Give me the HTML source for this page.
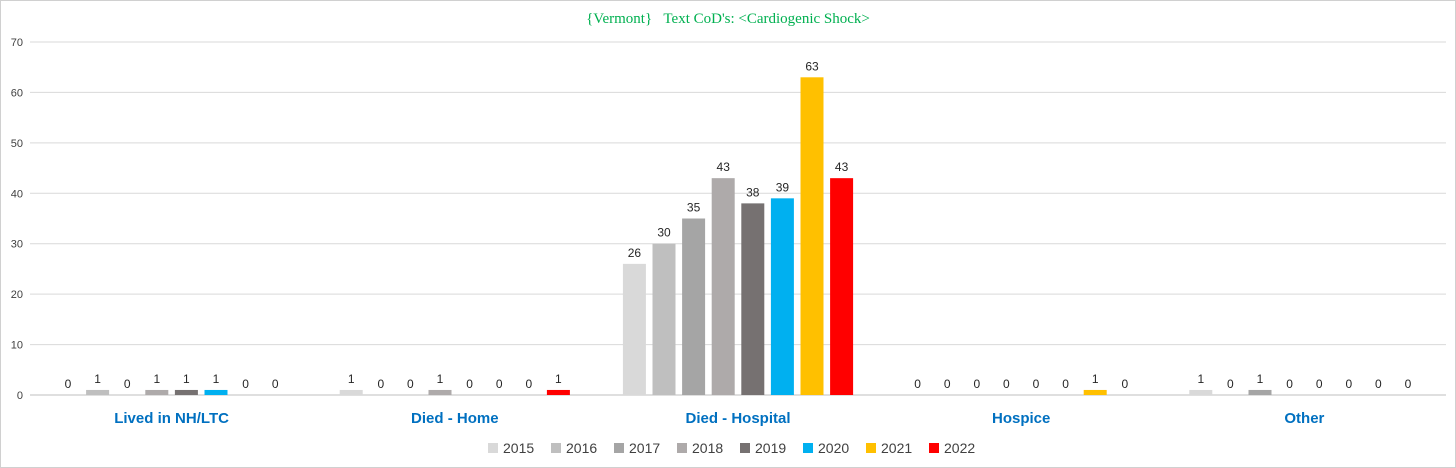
<!DOCTYPE html>
<html><head><meta charset="utf-8">
<style>
body{margin:0;background:#fff;}
#wrap{position:relative;width:1454px;height:466px;border:1px solid #d0d0d0;overflow:hidden;}
svg text{font-family:"Liberation Sans",sans-serif;}
</style></head>
<body>
<div id="wrap">
<svg id="chart" width="1454" height="466"></svg>
</div>
<script>
const categories=["Lived in NH/LTC","Died - Home","Died - Hospital","Hospice","Other"];
const years=["2015","2016","2017","2018","2019","2020","2021","2022"];
const colors=["#d9d9d9","#bfbfbf","#a5a5a5","#aeaaaa","#767171","#00b0f0","#ffc000","#ff0000"];
const s2015=[0,1,26,0,1];
const s2016=[1,0,30,0,0];
const s2017=[0,0,35,0,1];
const s2018=[1,1,43,0,0];
const s2019=[1,0,38,0,0];
const s2020=[1,0,39,0,0];
const s2021=[0,0,63,1,0];
const s2022=[0,1,43,0,0];
const yTicks=[0,10,20,30,40,50,60,70];
</script>
<script>
const series=[s2015,s2016,s2017,s2018,s2019,s2020,s2021,s2022];
const NS="http://www.w3.org/2000/svg";
const svg=document.getElementById('chart');
const x0=29,x1=1445,y0=394,yTop=41,ymax=70;
const y=v=>y0-(v/ymax)*(y0-yTop);
const cw=(x1-x0)/categories.length;
const bw=23,step=29.6;
function mk(t,a,txt){const e=document.createElementNS(NS,t);for(const k in a)e.setAttribute(k,a[k]);if(txt!==undefined)e.textContent=txt;svg.appendChild(e);return e;}
const title=mk('text',{x:727,y:22,'text-anchor':'middle','font-size':15,fill:'#00b050',style:'font-family:"Liberation Serif",serif;white-space:pre'},"{Vermont}\u00a0\u00a0\u00a0Text CoD's: <Cardiogenic Shock>");


yTicks.forEach(t=>{
  const g=mk('line',{x1:x0,x2:x1,y1:y(t),y2:y(t),stroke:t===0?'#bfbfbf':'#d9d9d9','stroke-width':1});
  
  
  const l=mk('text',{x:22,y:y(t)+4,'text-anchor':'end','font-size':11,fill:'#404040'},t);
  
  
});
categories.forEach((c,i)=>{
  const cx=x0+cw*(i+0.5);
  series.forEach((s,j)=>{
    const bx=cx+(j-3.5)*step;
    const v=s[i];
    const r=mk('rect',{x:bx-bw/2,y:y(v),width:bw,height:y0-y(v),fill:colors[j]});
    
    
    const t=mk('text',{x:bx,y:y(v)-7,'text-anchor':'middle','font-size':12,fill:'#262626'},v);
    
    
  });
  const cl=mk('text',{x:cx,y:422,'text-anchor':'middle','font-size':15,'font-weight':'bold',fill:'#0070c0'},c);
  
  
});
const lx=487,ls=63;
years.forEach((yr,j)=>{
  const sq=mk('rect',{x:lx+j*ls,y:442,width:10,height:10,fill:colors[j]});
  
  
  const t=mk('text',{x:lx+j*ls+15,y:452,'font-size':14,fill:'#404040'},yr);
  
  
});
</script>
</body></html>
